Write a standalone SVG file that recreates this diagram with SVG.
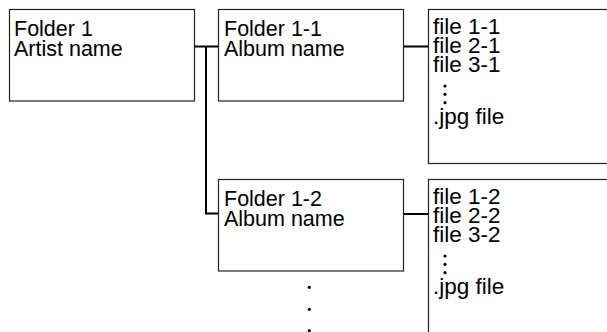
<svg xmlns="http://www.w3.org/2000/svg" width="607" height="332" viewBox="0 0 607 332">
<style>
.box{fill:#fff;stroke:#222;stroke-width:1.2}
.t{font-family:"Liberation Sans",Arial,sans-serif;font-size:21.5px;fill:#000}
.f{font-family:"Liberation Sans",Arial,sans-serif;font-size:22.5px;fill:#000}
.c{fill:none;stroke:#000;stroke-width:2}
.d{fill:#000}
</style>
<rect width="607" height="332" fill="#fff"/>
<g id="folder1">
<rect class="box" x="9.5" y="9.5" width="185" height="91.5"/>
<text class="t" x="14" y="36">Folder 1<tspan x="14" y="56">Artist name</tspan></text>
</g>
<g id="folder1-1">
<rect class="box" x="218.5" y="9.5" width="185" height="91.5"/>
<text class="t" x="224" y="36">Folder 1-1<tspan x="224" y="56">Album name</tspan></text>
</g>
<g id="files1">
<rect class="box" x="428.5" y="9.5" width="190" height="154"/>
<text class="f" x="433" y="34.3">file 1-1<tspan x="433" y="53.3">file 2-1</tspan><tspan x="433" y="72.3">file 3-1</tspan><tspan x="433" y="124.3">.jpg file</tspan></text>
<circle class="d" cx="445" cy="86" r="1.6"/>
<circle class="d" cx="445" cy="94.3" r="1.6"/>
<circle class="d" cx="445" cy="102.7" r="1.6"/>
</g>
<g id="folder1-2">
<rect class="box" x="218.5" y="179.5" width="185" height="91.5"/>
<text class="t" x="224" y="206">Folder 1-2<tspan x="224" y="226">Album name</tspan></text>
</g>
<g id="files2">
<rect class="box" x="428.5" y="179.5" width="190" height="170"/>
<text class="f" x="433" y="204.3">file 1-2<tspan x="433" y="223.3">file 2-2</tspan><tspan x="433" y="242.3">file 3-2</tspan><tspan x="433" y="294.3">.jpg file</tspan></text>
<circle class="d" cx="445" cy="256" r="1.6"/>
<circle class="d" cx="445" cy="264.3" r="1.6"/>
<circle class="d" cx="445" cy="272.7" r="1.6"/>
</g>
<g id="more">
<circle class="d" cx="309.3" cy="287.3" r="1.6"/>
<circle class="d" cx="309.3" cy="309.3" r="1.6"/>
<circle class="d" cx="309.3" cy="330.7" r="1.6"/>
</g>
<g id="connectors">
<path class="c" d="M194 46.5H218"/>
<path class="c" d="M206 46.5V213.5H218"/>
<path class="c" d="M404 46.5H428"/>
<path class="c" d="M404 214H428"/>
</g>
</svg>
